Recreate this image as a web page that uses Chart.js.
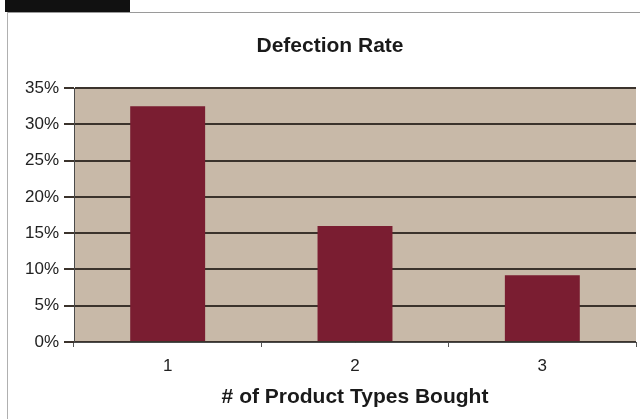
<!DOCTYPE html>
<html>
<head>
<meta charset="utf-8">
<script src="https://cdn.jsdelivr.net/npm/chart.js@4/dist/chart.umd.min.js"></script>
<style>
  html, body { margin: 0; padding: 0; background: #fff; }
  #wrap { position: relative; width: 640px; height: 419px; overflow: hidden; }
  #tab { position: absolute; left: 5px; top: 0; width: 125px; height: 12px; background: #111; }
  #frameTop { position: absolute; left: 7px; top: 12px; width: 633px; height: 1px; background: #9a9a9a; }
  #frameLeft { position: absolute; left: 7px; top: 12px; width: 1px; height: 407px; background: #b0b0b0; }
  canvas { position: absolute; left: 0; top: 0; }
</style>
</head>
<body>
<div id="wrap">
  <div id="tab"></div>
  <div id="frameTop"></div>
  <div id="frameLeft"></div>
  <canvas id="chart" width="640" height="419"></canvas>
</div>
<script>
// Defection rate by number of product types bought
const categories = ['1', '2', '3'];
const defectionRate = [32.5, 16, 9.2];   // percent
const yTicks = [0, 5, 10, 15, 20, 25, 30, 35];

const FONT = 'Liberation Sans, Arial, sans-serif';

const plotBackground = {
  id: 'plotBackground',
  beforeDraw(chart) {
    const { ctx, chartArea: a } = chart;
    ctx.save();
    ctx.fillStyle = '#c8b9a8';
    ctx.fillRect(a.left, a.top, a.right - a.left, a.bottom - a.top);
    ctx.restore();
  }
};

new Chart(document.getElementById('chart'), {
  type: 'bar',
  data: {
    labels: categories,
    datasets: [{
      data: defectionRate,
      backgroundColor: '#7a1d31',
      borderWidth: 0,
      categoryPercentage: 1,
      barPercentage: 0.4
    }]
  },
  options: {
    responsive: false,
    animation: false,
    devicePixelRatio: 1,
    layout: { padding: { left: 24, right: 4, top: 0, bottom: 0 } },
    plugins: {
      legend: { display: false },
      tooltip: { enabled: false },
      title: {
        display: true,
        text: 'Defection Rate',
        color: '#1a1a1a',
        font: { family: FONT, size: 21, weight: 'bold' },
        padding: { top: 34, bottom: 29 }
      }
    },
    scales: {
      x: {
        grid: {
          offset: true,
          drawOnChartArea: false,
          drawTicks: true,
          tickLength: 5,
          color: '#555'
        },
        border: { display: true, color: '#4a4a4a', width: 1 },
        ticks: {
          color: '#222',
          padding: 9,
          font: { family: FONT, size: 17 }
        },
        title: {
          display: true,
          text: '# of Product Types Bought',
          color: '#1a1a1a',
          font: { family: FONT, size: 21, weight: 'bold' },
          padding: { top: 0, bottom: 9 }
        },
        afterFit(axis) { axis.height = 77; }
      },
      y: {
        min: 0,
        max: 35,
        afterBuildTicks(axis) { axis.ticks = yTicks.map(v => ({ value: v })); },
        grid: {
          color: '#3b332c',
          lineWidth: 2,
          drawTicks: true,
          tickLength: 10
        },
        border: { display: true, color: '#4a4a4a', width: 1 },
        ticks: {
          color: '#222',
          padding: 5,
          font: { family: FONT, size: 17 },
          callback: v => v + '%'
        },
        afterFit(axis) { axis.width = 50; }
      }
    }
  },
  plugins: [plotBackground]
});
</script>
</body>
</html>
